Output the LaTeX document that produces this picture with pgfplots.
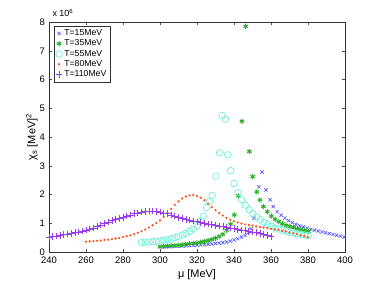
\documentclass[border=0pt]{standalone}
\usepackage{pgfplots}
\pgfplotsset{compat=1.18}
\usepackage{fontspec}
\setmainfont{Liberation Sans}
\definecolor{cblue}{RGB}{80,80,255}
\definecolor{cgreen}{RGB}{45,175,45}
\definecolor{ccyan}{RGB}{110,240,215}
\definecolor{corange}{RGB}{255,80,30}
\definecolor{cpurple}{RGB}{155,60,235}
\begin{document}
\begin{tikzpicture}
\path[use as bounding box] (-49bp,-32bp) rectangle (333bp,252bp);
\begin{axis}[
  at={(0,0)}, anchor=south west,
  scale only axis, width=296bp, height=230bp,
  xmin=240, xmax=400, ymin=0, ymax=8,
  xtick={240,260,...,400}, ytick={0,1,...,8},
  tick align=inside, major tick length=3bp,
  axis line style={black!80, line width=0.6pt},
  tick style={black!70, line width=0.5pt},
  ticklabel style={font=\fontsize{9.5}{11}\selectfont},
  xticklabel style={yshift=-1.2bp},
  yticklabel style={xshift=-0.5bp},
  /pgf/number format/assume math mode=true,
  xlabel={μ [MeV]}, ylabel={χ\textsubscript{s} [MeV]\textsuperscript{2}},
  label style={font=\fontsize{11}{13}\selectfont},
  xlabel style={at={(axis description cs:0.5,-0.1)}, anchor=center},
  ylabel style={at={(axis description cs:-0.058,0.5)}, anchor=center},
  legend style={at={(0.0169,0.983)}, anchor=north west, draw=black!80, line width=0.5pt,
    font=\fontsize{8.7}{10}\selectfont, row sep=-1.2pt, inner sep=1.5pt},
  legend cell align=left,
]
\addplot[only marks, mark=x, mark size=2.3bp, color=cblue, line width=0.6pt] coordinates {
(300,0.18)(302,0.18)(304,0.19)(306,0.19)(308,0.20)(310,0.20)(312,0.21)(314,0.21)(316,0.22)(318,0.23)
(320,0.24)(322,0.25)(324,0.26)(326,0.27)(328,0.28)(330,0.30)(332,0.31)(334,0.33)(336,0.35)(338,0.38)
(340,0.42)(342,0.46)(344,0.52)(346,0.58)(347.8,0.68)(349.2,0.81)(350.8,1.17)(353.4,2.27)(355.1,2.78)
(357.3,2.16)(359.5,1.82)(361.2,1.58)(363.4,1.40)(365.5,1.28)(367.5,1.18)(369.5,1.09)(371.5,1.02)
(373.5,0.96)(375.5,0.91)(377.5,0.87)(379.5,0.83)(381.5,0.79)(383.5,0.76)(385.5,0.73)(387.5,0.70)
(389.5,0.67)(391.5,0.64)(393.5,0.61)(395.5,0.58)(397.5,0.55)(399.5,0.52)};
\addlegendentry{T=15MeV}
\addplot[only marks, mark=asterisk, mark size=2.6bp, color=cgreen, line width=1pt] coordinates {
(300,0.19)(302,0.20)(304,0.21)(306,0.22)(308,0.23)(310,0.24)(312,0.25)(314,0.27)(316,0.29)(318,0.30)
(320,0.32)(322,0.34)(324,0.37)(326,0.40)(328,0.44)(330,0.48)(332,0.54)(334,0.62)(336,0.76)(338.2,0.97)
(340.2,1.29)(342.3,1.95)(344.3,4.55)(346.3,7.85)(348.3,3.5)(350.1,2.62)(352.3,2.09)(354,1.81)(355.9,1.58)
(358,1.40)(360.2,1.25)(362.2,1.14)(364.2,1.05)(366.2,0.98)(368.2,0.93)(370.2,0.89)(372.2,0.85)
(374.2,0.81)(376.2,0.78)(378.2,0.75)(380.2,0.72)};
\addlegendentry{T=35MeV}
\addplot[only marks, mark=o, mark size=3.3bp, color=ccyan, line width=0.7pt] coordinates {
(290,0.33)(292,0.34)(294,0.35)(296,0.36)(298,0.37)(300,0.39)(302,0.41)(304,0.43)(306,0.46)(308,0.50)
(310,0.54)(312,0.59)(314,0.65)(316,0.72)(318,0.80)(320,0.92)(321.7,1.06)(323.4,1.25)(325.2,1.55)
(326.7,1.75)(328.2,1.97)(330.2,2.64)(332.2,3.45)(333.6,4.75)(335.4,4.62)(336.6,3.38)(338.2,2.83)
(340,2.38)(342.2,2.06)(344.2,1.82)(346.1,1.63)(348.3,1.46)(350.2,1.33)(352.2,1.22)(354.2,1.12)
(356.2,1.03)(358.2,0.96)(360.2,0.90)(362.2,0.84)(364.2,0.80)(366.2,0.76)(368.2,0.72)(370.2,0.68)
(372.2,0.66)(374.2,0.63)(376.2,0.61)(378.2,0.59)(380,0.57)};
\addlegendentry{T=55MeV}
\addplot[only marks, mark=*, mark size=0.9bp, color=corange] coordinates {
(260,0.36)(262,0.37)(264,0.38)(266,0.39)(268,0.40)(270,0.42)(272,0.43)(274,0.45)(276,0.47)(278,0.49)
(280,0.52)(282,0.55)(284,0.58)(286,0.62)(288,0.67)(290,0.72)(292,0.78)(294,0.85)(296,0.93)(298,1.01)
(300,1.10)(302,1.22)(304,1.36)(306,1.50)(308,1.64)(310,1.76)(312,1.86)(314,1.93)(316,1.97)(318,1.98)
(320,1.95)(322,1.89)(324,1.80)(326,1.68)(328,1.56)(330,1.45)(332,1.36)(334,1.27)(336,1.19)(338,1.12)
(340,1.07)(342,1.03)(344,0.99)(346,0.96)(348,0.94)(350,0.92)(352,0.89)(354,0.87)(356,0.85)(358,0.83)
(360,0.81)(362,0.79)(364,0.77)(366,0.74)(368,0.71)(370,0.68)(372,0.65)(374,0.62)(376,0.58)(378,0.55)
(380,0.51)};
\addlegendentry{T=80MeV}
\addplot[only marks, mark=+, mark size=3.3bp, color=cpurple, line width=0.7pt] coordinates {
(240,0.51)(242,0.53)(244,0.55)(246,0.57)(248,0.60)(250,0.62)(252,0.64)(254,0.67)(256,0.70)(258,0.73)
(260,0.76)(262,0.80)(264,0.84)(266,0.89)(268,0.94)(270,0.99)(272,1.04)(274,1.09)(276,1.13)(278,1.17)
(280,1.21)(282,1.25)(284,1.29)(286,1.33)(288,1.36)(290,1.39)(292,1.41)(294,1.42)(296,1.42)(298,1.41)
(300,1.39)(302,1.36)(304,1.33)(306,1.29)(308,1.25)(310,1.21)(312,1.17)(314,1.14)(316,1.11)(318,1.08)
(320,1.05)(322,1.02)(324,0.99)(326,0.97)(328,0.95)(330,0.93)(332,0.90)(334,0.88)(336,0.86)(338,0.84)
(340,0.81)(342,0.79)(344,0.77)(346,0.75)(348,0.72)(350,0.70)(352,0.67)(354,0.64)(356,0.61)(358,0.57)
(360,0.53)};
\addlegendentry{T=110MeV}
\end{axis}
\node[anchor=base west, font=\fontsize{9}{11}\selectfont] at (0bp,235bp) {x 10\textsuperscript{6}};
\end{tikzpicture}
\end{document}
